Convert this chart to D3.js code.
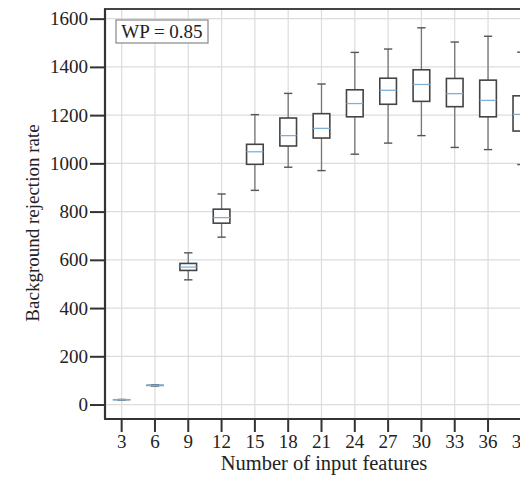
<!DOCTYPE html>
<html>
<head>
<meta charset="utf-8">
<script src="https://cdn.jsdelivr.net/npm/d3@7"></script>
<style>
  body { margin: 0; background: #fff; }
  svg { display: block; font-family: 'Liberation Serif', 'Times New Roman', serif; }
</style>
</head>
<body>
<div id="chart"></div>
<script>
// number of input features (x categories)
const features = [3, 6, 9, 12, 15, 18, 21, 24, 27, 30, 33, 36, 39]
// box statistics per category
const whiskerLow = [19, 77, 517, 694, 888, 984, 970, 1038, 1084, 1115, 1066, 1057, 995]
const q1 = [19, 78, 556, 752, 996, 1072, 1105, 1193, 1245, 1257, 1235, 1193, 1134]
const median = [20, 80, 570, 775, 1048, 1115, 1145, 1248, 1303, 1327, 1289, 1261, 1203]
const q3 = [21, 81, 585, 810, 1079, 1188, 1206, 1305, 1353, 1388, 1352, 1345, 1280]
const whiskerHigh = [21, 82, 629, 873, 1202, 1290, 1329, 1460, 1474, 1562, 1503, 1527, 1461]
const yTicks = [0, 200, 400, 600, 800, 1000, 1200, 1400, 1600]

const boxes = features.map((f, i) => ({
  f, lo: whiskerLow[i], q1: q1[i], med: median[i], q3: q3[i], hi: whiskerHigh[i]
}))

const margin = { top: 9, left: 105 }
const width = 433
const height = 410

const svg = d3.select('#chart')
  .append('svg')
  .attr('width', 520)
  .attr('height', 477)

const g = svg.append('g')
  .attr('transform', `translate(${margin.left},${margin.top})`)

const x = d3.scaleBand()
  .domain(features)
  .range([0, width])
  .paddingInner(0.5)
  .paddingOuter(0.25)

const y = d3.scaleLinear()
  .domain([-60, 1640])
  .range([height, 0])

const cx = f => x(f) + x.bandwidth() / 2

// grid
g.append('g')
  .selectAll('line.h')
  .data(yTicks)
  .join('line')
  .attr('x1', 0)
  .attr('x2', width)
  .attr('y1', d => y(d))
  .attr('y2', d => y(d))
  .attr('stroke', '#dcdcdc')
  .attr('stroke-width', 1.2)

g.append('g')
  .selectAll('line.v')
  .data(features)
  .join('line')
  .attr('x1', d => cx(d))
  .attr('x2', d => cx(d))
  .attr('y1', 0)
  .attr('y2', height)
  .attr('stroke', '#dcdcdc')
  .attr('stroke-width', 1.2)

// frame
g.append('rect')
  .attr('width', width)
  .attr('height', height)
  .attr('fill', 'none')
  .attr('stroke', '#444')
  .attr('stroke-width', 2)

// boxes
const bw = x.bandwidth()
const box = g.append('g')
  .selectAll('g')
  .data(boxes)
  .join('g')

box.append('line')
  .attr('x1', d => cx(d.f))
  .attr('x2', d => cx(d.f))
  .attr('y1', d => y(d.hi))
  .attr('y2', d => y(d.lo))
  .attr('stroke', '#777')
  .attr('stroke-width', 1.3)

box.selectAll('line.cap')
  .data(d => [[d.f, d.lo], [d.f, d.hi]])
  .join('line')
  .attr('x1', d => cx(d[0]) - bw / 4)
  .attr('x2', d => cx(d[0]) + bw / 4)
  .attr('y1', d => y(d[1]))
  .attr('y2', d => y(d[1]))
  .attr('stroke', '#555')
  .attr('stroke-width', 1.4)

box.append('rect')
  .attr('x', d => x(d.f))
  .attr('width', bw)
  .attr('y', d => y(d.q3))
  .attr('height', d => Math.max(0.5, y(d.q1) - y(d.q3)))
  .attr('fill', '#fff')
  .attr('stroke', d => d.q3 - d.q1 < 5 ? '#5d7f9e' : '#444')
  .attr('stroke-width', d => d.q3 - d.q1 < 5 ? 1 : 1.6)

box.append('line')
  .attr('x1', d => x(d.f))
  .attr('x2', d => x(d.f) + bw)
  .attr('y1', d => y(d.med))
  .attr('y2', d => y(d.med))
  .attr('stroke', '#7fb0d8')
  .attr('stroke-width', 1.3)

// axes
const yAxis = g.append('g')
  .call(d3.axisLeft(y).tickValues(yTicks).tickFormat(d3.format('d')).tickSize(15).tickPadding(2))
yAxis.select('.domain').remove()

const xAxis = g.append('g')
  .attr('transform', `translate(0,${height})`)
  .call(d3.axisBottom(x).tickSize(13).tickPadding(3))
xAxis.select('.domain').remove()

svg.selectAll('.tick line').attr('stroke', '#333').attr('stroke-width', 2)
svg.selectAll('.tick text')
  .attr('fill', '#222')
  .style('font-family', "'Liberation Serif', serif")
  .style('font-size', '19px')

g.append('line')
  .attr('x1', 0).attr('x2', 0)
  .attr('y1', 0).attr('y2', height)
  .attr('stroke', '#333').attr('stroke-width', 2.2)
g.append('line')
  .attr('x1', 0).attr('x2', width)
  .attr('y1', height).attr('y2', height)
  .attr('stroke', '#333').attr('stroke-width', 2.2)

// labels
svg.append('text')
  .attr('x', 324)
  .attr('y', 470)
  .attr('text-anchor', 'middle')
  .attr('fill', '#222')
  .style('font-size', '20.5px')
  .text('Number of input features')

svg.append('text')
  .attr('transform', 'translate(39,223) rotate(-90)')
  .attr('text-anchor', 'middle')
  .attr('fill', '#222')
  .style('font-size', '19px')
  .text('Background rejection rate')

// WP label
svg.append('rect')
  .attr('x', 116).attr('y', 20)
  .attr('width', 92).attr('height', 23)
  .attr('fill', '#fff')
  .attr('stroke', '#888')
  .attr('stroke-width', 1.2)
svg.append('text')
  .attr('x', 162).attr('y', 38)
  .attr('text-anchor', 'middle')
  .attr('fill', '#222')
  .style('font-size', '19px')
  .text('WP = 0.85')
</script>
</body>
</html>
